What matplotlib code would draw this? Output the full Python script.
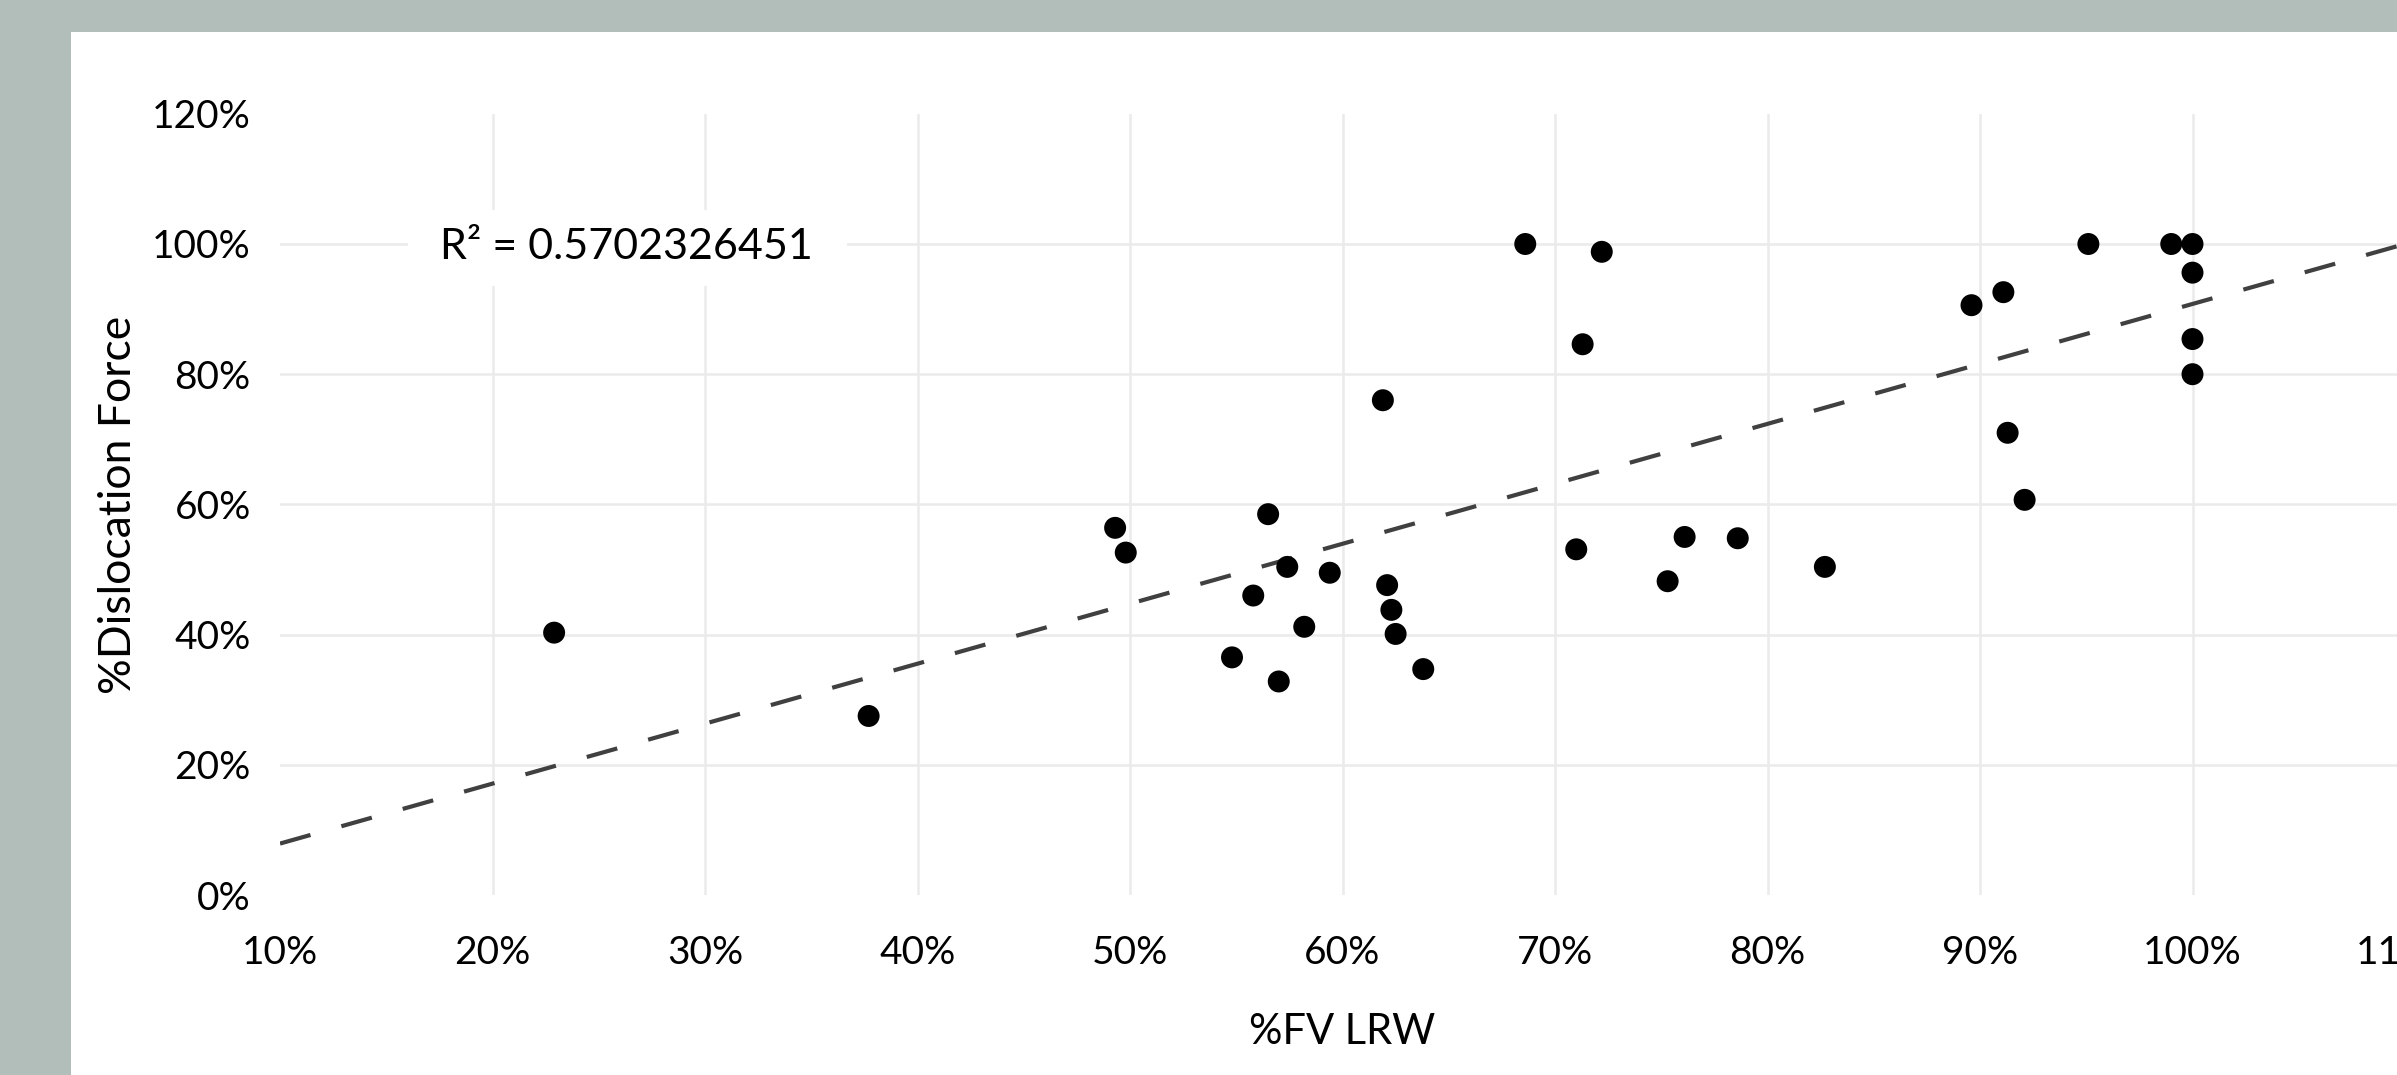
import numpy as np
import matplotlib
matplotlib.use("Agg")
import matplotlib.pyplot as plt
from matplotlib.ticker import FuncFormatter
from matplotlib.patches import Rectangle

# ---- data (percent) ----
fv_lrw = [22.9, 37.7, 49.3, 49.8, 54.8, 55.8, 56.5, 57.0, 57.4, 58.2,
          59.4, 61.9, 62.1, 62.3, 62.5, 63.8, 68.6, 71.0, 71.3, 72.2,
          75.3, 76.1, 78.6, 82.7, 89.6, 91.1, 91.3, 92.1, 95.1, 99.0,
          100.0, 100.0, 100.0, 100.0]
dislocation = [40.3, 27.5, 56.4, 52.6, 36.5, 46.0, 58.5, 32.8, 50.4, 41.2,
               49.5, 76.0, 47.6, 43.8, 40.1, 34.7, 100.0, 53.1, 84.6, 98.8,
               48.2, 55.0, 54.8, 50.4, 90.6, 92.6, 71.0, 60.7, 100.0, 100.0,
               100.0, 95.6, 85.4, 80.0]
# linear trendline endpoints
trend_x = [10, 110]
trend_y = [7.9, 100.0]
x_ticks = [10, 20, 30, 40, 50, 60, 70, 80, 90, 100, 110]
y_ticks = [0, 20, 40, 60, 80, 100, 120]
r2_label = "R\u00b2 = 0.5702326451"
x_label = "%FV LRW"
y_label = "%Dislocation Force"

FONT = ["Lato", "DejaVu Sans"]
plt.rcParams["font.family"] = FONT

W, H = 2397, 1075
fig = plt.figure(figsize=(W / 100, H / 100), dpi=100)
fig.patch.set_facecolor("#B2BEBA")

# white panel as a background axes
bg = fig.add_axes([71 / W, 0, 1 - 71 / W, (H - 32) / H])
bg.set_facecolor("white")
bg.set_xticks([])
bg.set_yticks([])
for s in bg.spines.values():
    s.set_visible(False)
bg.set_zorder(0)

ax_left, ax_right, ax_bottom, ax_top = 280, 2405, 895, 113.8
ax = fig.add_axes([ax_left / W, 1 - ax_bottom / H, (ax_right - ax_left) / W,
                   (ax_bottom - ax_top) / H])
ax.set_zorder(1)
ax.set_facecolor("none")
ax.set_xlim(x_ticks[0], x_ticks[-1])
ax.set_ylim(y_ticks[0], y_ticks[-1])

for s in ax.spines.values():
    s.set_visible(False)

grid_kw = dict(color="#EBEBEB", lw=1.8, zorder=1)
for xv in x_ticks[1:-1]:
    ax.axvline(xv, **grid_kw)
for yv in y_ticks[1:-1]:
    ax.axhline(yv, **grid_kw)

ax.set_xticks(x_ticks)
ax.set_yticks(y_ticks)
pct = FuncFormatter(lambda v, p: f"{v:.0f}%")
ax.xaxis.set_major_formatter(pct)
ax.yaxis.set_major_formatter(pct)
ax.tick_params(axis="both", length=0, labelsize=28, labelcolor="black")
ax.tick_params(axis="x", pad=29)
ax.tick_params(axis="y", pad=21)

# dashed trend line
line, = ax.plot(trend_x, trend_y, color="#404040", lw=3.0, zorder=3,
                solid_capstyle="butt", dash_capstyle="butt")
line.set_dashes((7.6, 7.7))

ax.scatter(fv_lrw, dislocation, s=250, color="black", edgecolors="none", zorder=4)

# R^2 annotation with white box
ax.add_patch(Rectangle((16.0, 93.5), 20.7, 11.7, facecolor="white",
                       edgecolor="none", zorder=2))
ax.text(26.3, 99.5, r2_label, fontsize=31, ha="center", va="center", zorder=5)

ax.set_xlabel(x_label, fontsize=30, labelpad=30)
ax.set_ylabel(y_label, fontsize=32, labelpad=9)

fig.savefig("out.png", dpi=100, facecolor=fig.get_facecolor())
